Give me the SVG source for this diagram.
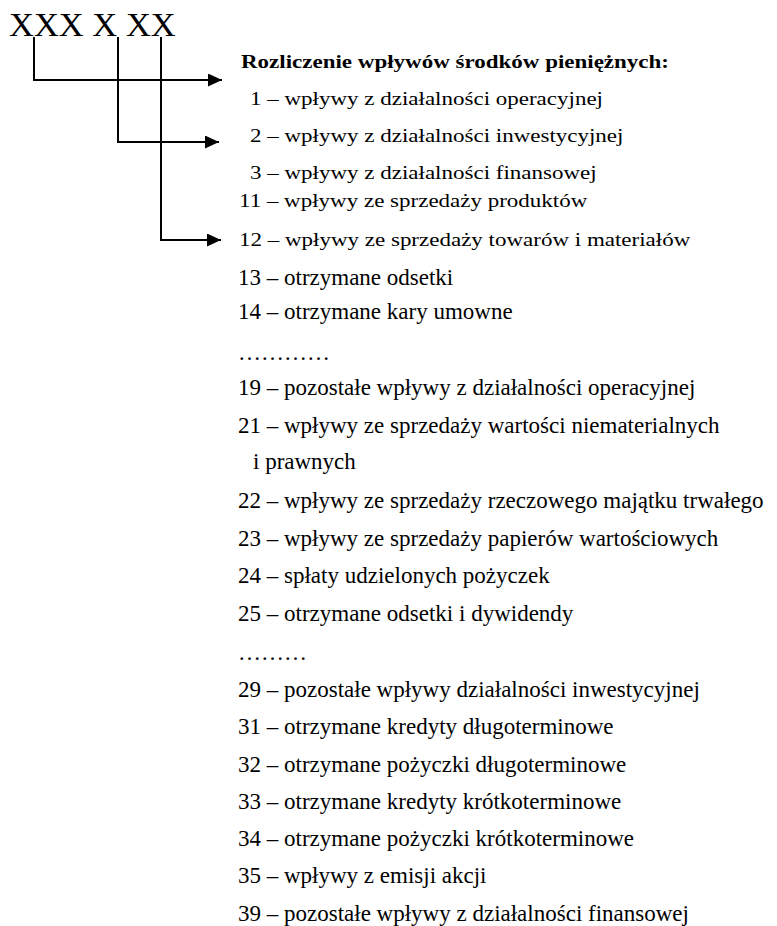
<svg xmlns="http://www.w3.org/2000/svg" width="777" height="926" viewBox="0 0 777 926">
<style>
text{font-family:"Liberation Serif","Times New Roman",serif;fill:#000}
.code{font-size:34.5px}
.t{font-size:23px}
.b{font-weight:bold}
.c{fill:none;stroke:#000;stroke-width:2}
</style>
<defs>
<marker id="ah" markerUnits="userSpaceOnUse" markerWidth="15" markerHeight="14" refX="14" refY="6.5" orient="auto">
<path d="M0,0 L14,6.5 L0,13 z" fill="#000"/>
</marker>
</defs>
<rect width="777" height="926" fill="#fff"/>
<g id="code"><text class="code" x="9" y="36">XXX X XX</text></g>
<g id="connectors">
<path class="c" d="M34,37 V80 H222" marker-end="url(#ah)"/>
<path class="c" d="M118,37 V142 H219" marker-end="url(#ah)"/>
<path class="c" d="M161,37 V240 H221" marker-end="url(#ah)"/>
</g>
<g id="header">
<text class="t b" transform="translate(241,67.5) scale(1,0.86)">Rozliczenie wpływów środków pieniężnych:</text>
<text class="t" transform="translate(250,105) scale(1,0.86)">1 – wpływy z działalności operacyjnej</text>
<text class="t" transform="translate(250,142) scale(1,0.86)">2 – wpływy z działalności inwestycyjnej</text>
<text class="t" transform="translate(250,179) scale(1,0.86)">3 – wpływy z działalności finansowej</text>
<text class="t" transform="translate(239,207) scale(1,0.86)">11 – wpływy ze sprzedaży produktów</text>
<text class="t" transform="translate(239,246) scale(1,0.86)">12 – wpływy ze sprzedaży towarów i materiałów</text>
</g>
<g id="list">
<text class="t" x="238" y="285">13 – otrzymane odsetki</text>
<text class="t" x="238" y="319">14 – otrzymane kary umowne</text>
<text class="t" x="238" y="360">…………</text>
<text class="t" x="238" y="395">19 – pozostałe wpływy z działalności operacyjnej</text>
<text class="t" x="238" y="433">21 – wpływy ze sprzedaży wartości niematerialnych</text>
<text class="t" x="253" y="469">i prawnych</text>
<text class="t" x="238" y="508">22 – wpływy ze sprzedaży rzeczowego majątku trwałego</text>
<text class="t" x="238" y="546">23 – wpływy ze sprzedaży papierów wartościowych</text>
<text class="t" x="238" y="583">24 – spłaty udzielonych pożyczek</text>
<text class="t" x="238" y="621">25 – otrzymane odsetki i dywidendy</text>
<text class="t" x="238" y="660">………</text>
<text class="t" x="238" y="697">29 – pozostałe wpływy działalności inwestycyjnej</text>
<text class="t" x="238" y="734">31 – otrzymane kredyty długoterminowe</text>
<text class="t" x="238" y="772">32 – otrzymane pożyczki długoterminowe</text>
<text class="t" x="238" y="809">33 – otrzymane kredyty krótkoterminowe</text>
<text class="t" x="238" y="846">34 – otrzymane pożyczki krótkoterminowe</text>
<text class="t" x="238" y="883">35 – wpływy z emisji akcji</text>
<text class="t" x="238" y="921">39 – pozostałe wpływy z działalności finansowej</text>
</g>
</svg>
